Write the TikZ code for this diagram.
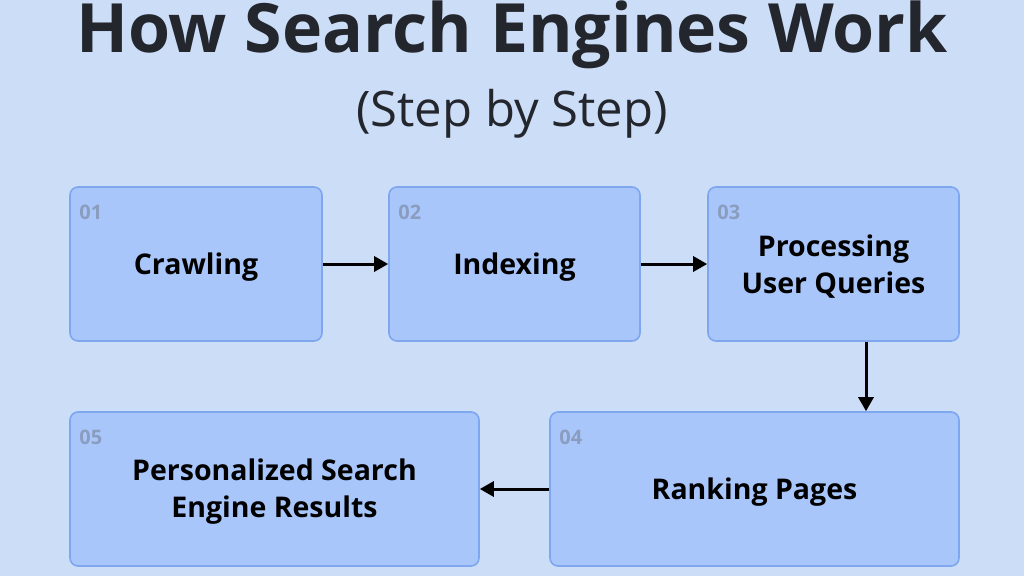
\documentclass[tikz,border=0pt]{standalone}
\usepackage{fontspec}
\setmainfont{Open Sans}
\usetikzlibrary{arrows.meta}
\definecolor{bgc}{HTML}{CCDDF8}
\definecolor{boxfill}{HTML}{A9C6FB}
\definecolor{boxline}{HTML}{7FA7EE}
\definecolor{numc}{HTML}{8A9DBF}
\definecolor{titlec}{HTML}{23272D}
\tikzset{
  stepbox/.style={draw=boxline, fill=boxfill, line width=1.6pt, rounded corners=8pt,
    minimum height=154pt, inner sep=0pt},
  steptext/.style={align=center, inner sep=0pt, yshift=-3pt,
    font=\fontsize{28.5}{37}\selectfont\bfseries, text=black},
  numlabel/.style={anchor=north west, inner sep=0pt, font=\fontsize{20}{22}\selectfont\bfseries, text=numc},
  flow/.style={-{Triangle[length=14pt,width=15pt]}, line width=3pt, black}
}
\begin{document}
\begin{tikzpicture}[x=1pt,y=-1pt]
\fill[bgc] (0,0) rectangle (1024,576);
\useasboundingbox (0,0) rectangle (1024,576);
\node[font=\fontsize{68}{74}\selectfont\bfseries, text=titlec] (title) at (512,35) {How Search Engines Work};
\node[font=\fontsize{49}{52}\selectfont, text=titlec] (subtitle) at (512,114) {(Step by Step)};

\node[stepbox, minimum width=252pt, label={[steptext]center:Crawling}] (s1) at (196,264) {};
\node[stepbox, minimum width=251pt, label={[steptext]center:Indexing}] (s2) at (514.5,264) {};
\node[stepbox, minimum width=251pt, label={[steptext]center:Processing\\User Queries}] (s3) at (833.5,264) {};
\node[stepbox, minimum width=409pt, label={[steptext]center:Ranking Pages}] (s4) at (754.5,489) {};
\node[stepbox, minimum width=409pt, label={[steptext]center:Personalized Search\\Engine Results}] (s5) at (274.5,489) {};

\node[numlabel] (n1) at ([xshift=10pt,yshift=-19pt]s1.north west) {01};
\node[numlabel] (n2) at ([xshift=10pt,yshift=-19pt]s2.north west) {02};
\node[numlabel] (n3) at ([xshift=10pt,yshift=-19pt]s3.north west) {03};
\node[numlabel] (n4) at ([xshift=10pt,yshift=-19pt]s4.north west) {04};
\node[numlabel] (n5) at ([xshift=10pt,yshift=-19pt]s5.north west) {05};

\draw[flow] (s1.east) -- (s2.west);
\draw[flow] (s2.east) -- (s3.west);
\draw[flow] (s3.south -| 866,0) -- (s4.north -| 866,0);
\draw[flow] (s4.west) -- (s5.east);
\end{tikzpicture}
\end{document}
